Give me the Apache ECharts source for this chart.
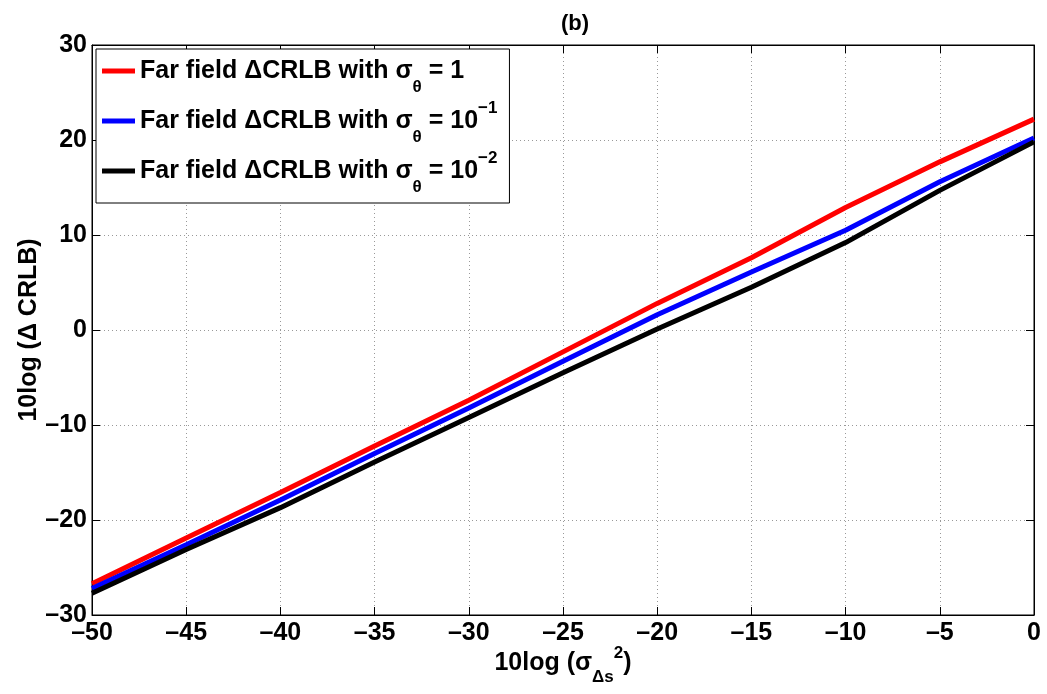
<!DOCTYPE html>
<html>
<head>
<meta charset="utf-8">
<script src="https://cdn.jsdelivr.net/npm/echarts@6/dist/echarts.min.js"></script>
<style>html,body{margin:0;padding:0;background:#fff;}#c{width:1047px;height:694px;}</style>
</head>
<body>
<div id="c"></div>
<script>
const xValues = [-50, -45, -40, -35, -30, -25, -20, -15, -10, -5, 0];
const redValues = [-26.7, -21.9, -17.1, -12.2, -7.4, -2.3, 2.8, 7.6, 12.9, 17.7, 22.2];
const blueValues = [-27.2, -22.6, -17.9, -13.0, -8.2, -3.3, 1.6, 6.1, 10.5, 15.6, 20.2];
const blackValues = [-27.7, -23.1, -18.7, -13.9, -9.2, -4.5, 0.1, 4.5, 9.2, 14.7, 19.8];
const seriesNames = ['s1', 's2', 's3'];
const legendLabels = {
  s1: 'Far field \u0394CRLB with \u03c3{sub|\u03b8} = 1',
  s2: 'Far field \u0394CRLB with \u03c3{sub|\u03b8} = 10{sup|\u22121}',
  s3: 'Far field \u0394CRLB with \u03c3{sub|\u03b8} = 10{sup|\u22122}'
};
const titleText = '(b)';
const xName = '10log (\u03c3{sub|\u0394s}{sup|2})';
const yName = '10log (\u0394 CRLB)';

const FONT = '"Liberation Sans", Arial, Helvetica, sans-serif';
const pair = (vals) => xValues.map((x, i) => [x, vals[i]]);
const fmt = (v) => String(v).replace('-', '\u2013');
const richStyles = {
  sub: {fontSize: 17, fontWeight: 'bold', fontFamily: FONT, color: '#000', verticalAlign: 'bottom', lineHeight: 17, padding: [0, 0, -10, 0]},
  sup: {fontSize: 17, fontWeight: 'bold', fontFamily: FONT, color: '#000', verticalAlign: 'top', lineHeight: 17, padding: [-6, 0, 0, 0]}
};

const chart = echarts.init(document.getElementById('c'), null, {renderer: 'canvas'});
const gridLine = {show: true, lineStyle: {color: '#999', type: [1, 3], width: 1}};
const tickStyle = {inside: true, length: 8, lineStyle: {color: '#000'}};
chart.setOption({
  animation: false,
  backgroundColor: '#fff',
  title: {text: titleText, left: 570, textAlign: 'center', top: 8,
    textStyle: {fontFamily: FONT, fontWeight: 'bold', fontSize: 22, color: '#000'}},
  grid: {left: 92, right: 13, top: 45, bottom: 79, show: true, borderColor: '#000', borderWidth: 1, backgroundColor: '#fff'},
  legend: {
    data: seriesNames, orient: 'vertical', left: 96, top: 49,
    backgroundColor: '#fff', borderColor: '#000', borderWidth: 1,
    padding: [7, 12, 7, 6], itemGap: 4, itemWidth: 33, itemHeight: 5, icon: 'rect',
    formatter: (n) => legendLabels[n],
    textStyle: {fontFamily: FONT, fontWeight: 'bold', fontSize: 25, color: '#000', lineHeight: 30, rich: richStyles}
  },
  xAxis: [{
    type: 'value', min: -50, max: 0, interval: 5,
    name: xName, nameLocation: 'middle', nameGap: 36, nameMoveOverlap: false,
    nameTextStyle: {fontFamily: FONT, fontWeight: 'bold', fontSize: 25, color: '#000', rich: richStyles},
    axisLine: {onZero: false, lineStyle: {color: '#000', width: 1}},
    axisTick: tickStyle,
    axisLabel: {formatter: fmt, fontFamily: FONT, fontWeight: 'bold', fontSize: 25, color: '#000', margin: 6},
    splitLine: gridLine
  }, {
    type: 'value', min: -50, max: 0, interval: 5, position: 'top',
    axisLine: {onZero: false, lineStyle: {color: '#000'}},
    axisTick: tickStyle,
    axisLabel: {show: false}, splitLine: {show: false}
  }],
  yAxis: [{
    type: 'value', min: -30, max: 30, interval: 10,
    name: yName, nameLocation: 'middle', nameGap: 50, nameRotate: 90, nameMoveOverlap: false,
    nameTextStyle: {fontFamily: FONT, fontWeight: 'bold', fontSize: 25, color: '#000'},
    axisLine: {onZero: false, lineStyle: {color: '#000', width: 1}},
    axisTick: tickStyle,
    axisLabel: {formatter: fmt, fontFamily: FONT, fontWeight: 'bold', fontSize: 25, color: '#000', margin: 5},
    splitLine: gridLine
  }, {
    type: 'value', min: -30, max: 30, interval: 10, position: 'right',
    axisLine: {onZero: false, lineStyle: {color: '#000'}},
    axisTick: tickStyle,
    axisLabel: {show: false}, splitLine: {show: false}
  }],
  series: [
    {name: 's1', type: 'line', data: pair(redValues), showSymbol: false, lineStyle: {color: '#ff0000', width: 5}, itemStyle: {color: '#ff0000'}},
    {name: 's2', type: 'line', data: pair(blueValues), showSymbol: false, lineStyle: {color: '#0000ff', width: 5}, itemStyle: {color: '#0000ff'}},
    {name: 's3', type: 'line', data: pair(blackValues), showSymbol: false, lineStyle: {color: '#000000', width: 5}, itemStyle: {color: '#000000'}}
  ]
});
</script>
</body>
</html>
